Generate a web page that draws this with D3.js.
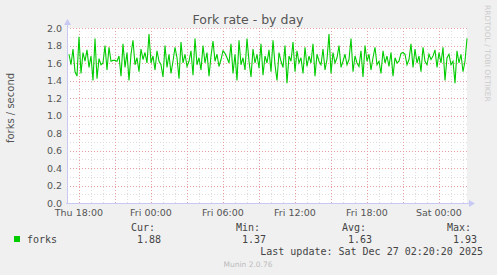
<!DOCTYPE html>
<html><head><meta charset="utf-8">
<script src="https://cdn.jsdelivr.net/npm/d3@7"></script>
<style>html,body{margin:0;padding:0;background:#f0f0f0;}svg{display:block;}</style>
</head><body>
<svg id="c" width="497" height="275"></svg>
<script>
const title = "Fork rate - by day";
const yLabel = "forks / second";
const seriesName = "forks";
const lastUpdate = "Last update: Sat Dec 27 02:20:20 2025";
const endTime = "2025-12-27T02:20:20Z";
const spanSeconds = 120000;
const stepSeconds = 600;
const yTicks = [0.0,0.2,0.4,0.6,0.8,1.0,1.2,1.4,1.6,1.8,2.0];
const statLabels = ["Cur:","Min:","Avg:","Max:"];
const statValues = ["1.88","1.37","1.63","1.93"];
const forks = [
1.70,1.58,1.76,1.50,1.45,1.90,1.48,1.72,1.62,1.75,1.55,1.68,1.40,1.88,1.42,1.65,1.58,1.60,1.80,1.52,
1.78,1.62,1.63,1.63,1.62,1.68,1.45,1.82,1.55,1.72,1.40,1.70,1.86,1.58,1.66,1.50,1.76,1.64,1.72,1.60,
1.93,1.60,1.68,1.52,1.74,1.62,1.58,1.44,1.80,1.55,1.70,1.48,1.62,1.78,1.66,1.42,1.84,1.60,1.70,1.56,
1.62,1.74,1.46,1.88,1.58,1.66,1.52,1.80,1.60,1.72,1.45,1.68,1.85,1.62,1.70,1.56,1.64,1.74,1.71,1.66,
1.60,1.82,1.48,1.70,1.40,1.86,1.58,1.66,1.52,1.88,1.62,1.44,1.76,1.60,1.70,1.54,1.82,1.46,1.68,1.60,
1.75,1.50,1.86,1.58,1.40,1.72,1.62,1.55,1.80,1.37,1.68,1.62,1.84,1.50,1.74,1.60,1.66,1.48,1.78,1.56,
1.68,1.60,1.82,1.45,1.70,1.62,1.58,1.76,1.52,1.64,1.93,1.48,1.72,1.60,1.66,1.80,1.55,1.62,1.70,1.58,
1.64,1.88,1.50,1.68,1.60,1.56,1.74,1.44,1.80,1.62,1.70,1.52,1.66,1.78,1.58,1.62,1.48,1.74,1.60,1.68,
1.56,1.72,1.45,1.66,1.60,1.62,1.71,1.72,1.70,1.58,1.64,1.82,1.55,1.76,1.60,1.68,1.50,1.78,1.62,1.58,
1.70,1.64,1.68,1.75,1.55,1.72,1.60,1.78,1.40,1.66,1.70,1.58,1.62,1.37,1.74,1.60,1.70,1.50,1.62,1.88
];

const svg = d3.select("#c");
const L = 67, R = 467, T = 28, B = 203;
const end = new Date(endTime);
const start = new Date(end.getTime() - spanSeconds*1000);
const x = d3.scaleUtc().domain([start, end]).range([L, R]);
const y = d3.scaleLinear().domain([0, 2]).range([B, T]);
const sans = "DejaVu Sans, sans-serif", mono = "DejaVu Sans Mono, monospace";

svg.append("rect").attr("x", L).attr("y", T).attr("width", R-L).attr("height", B-T).attr("fill", "#fff");

// minor grid
const g = svg.append("g").attr("shape-rendering", "crispEdges");
x.ticks(d3.utcHour.every(1)).forEach(t => {
  const px = Math.round(x(t)) + 0.5;
  g.append("line").attr("x1", px).attr("x2", px).attr("y1", T).attr("y2", B)
   .attr("stroke", "#ddd").attr("stroke-dasharray", "1,2");
});
y.ticks(20).forEach(v => {
  const py = Math.round(y(v)) + 0.5;
  g.append("line").attr("x1", L).attr("x2", R).attr("y1", py).attr("y2", py)
   .attr("stroke", "#ddd").attr("stroke-dasharray", "1,2");
});
// major grid
x.ticks(d3.utcHour.every(3)).forEach(t => {
  const px = Math.round(x(t)) + 0.5;
  g.append("line").attr("x1", px).attr("x2", px).attr("y1", T).attr("y2", B+1)
   .attr("stroke", "#e8a0a0").attr("stroke-dasharray", "1,2");
});
yTicks.forEach(v => {
  const py = Math.round(y(v)) + 0.5;
  g.append("line").attr("x1", L).attr("x2", R).attr("y1", py).attr("y2", py)
   .attr("stroke", "#e8a0a0").attr("stroke-dasharray", "1,2");
});

// data line
const line = d3.line()
  .x((d, i) => x(new Date(start.getTime() + (i+1)*stepSeconds*1000)))
  .y(d => y(d));
svg.append("path").datum(forks).attr("d", line).attr("fill", "none")
  .attr("stroke", "#00cc00").attr("stroke-width", 1.1);

// axes
const axCol = "#c8c8f4";
svg.append("line").attr("x1", L+0.5).attr("x2", L+0.5).attr("y1", T-4).attr("y2", B+1).attr("stroke", axCol);
svg.append("line").attr("x1", L-1).attr("x2", R+3).attr("y1", B+0.5).attr("y2", B+0.5).attr("stroke", axCol);
svg.append("path").attr("d", `M${L-3},${T-3} L${L+4},${T-3} L${L+0.5},${T-9} Z`).attr("fill", axCol);
svg.append("path").attr("d", `M${R+2},${B-3} L${R+2},${B+4} L${R+8},${B+0.5} Z`).attr("fill", axCol);

// tick labels
const tc = "#555";
yTicks.forEach(v => {
  svg.append("text").attr("x", 62).attr("y", y(v) + 3.5).attr("text-anchor", "end")
    .attr("font-family", sans).attr("font-size", 9.5).attr("fill", tc).text(d3.format(".1f")(v));
});
const fmt = d3.utcFormat("%a %H:%M");
x.ticks(d3.utcHour.every(6)).forEach(t => {
  svg.append("text").attr("x", x(t)).attr("y", 216).attr("text-anchor", "middle")
    .attr("font-family", sans).attr("font-size", 9.5).attr("fill", tc).text(fmt(t));
});

// title & labels
svg.append("text").attr("x", 248).attr("y", 24).attr("text-anchor", "middle")
  .attr("font-family", sans).attr("font-size", 12.5).attr("fill", "#555").text(title);
svg.append("text").attr("transform", "translate(14,108) rotate(-90)").attr("text-anchor", "middle")
  .attr("font-family", sans).attr("font-size", 10).attr("fill", "#555").text(yLabel);
svg.append("text").attr("transform", "translate(485,5) rotate(90)").attr("text-anchor", "start")
  .attr("font-family", sans).attr("font-size", 7.5).attr("fill", "#ccc").text("RRDTOOL / TOBI OETIKER");

// legend
svg.append("rect").attr("x", 14).attr("y", 236).attr("width", 6).attr("height", 6).attr("fill", "#00cc00");
svg.append("text").attr("x", 27).attr("y", 243).attr("font-family", mono).attr("font-size", 10)
  .attr("fill", "#444").text(seriesName);
const statRight = [155, 260, 366, 471];
statLabels.forEach((s, i) => {
  svg.append("text").attr("x", statRight[i]).attr("y", 231).attr("text-anchor", "end")
    .attr("font-family", mono).attr("font-size", 10).attr("fill", "#444").text(s);
  svg.append("text").attr("x", statRight[i] + 6).attr("y", 243).attr("text-anchor", "end")
    .attr("font-family", mono).attr("font-size", 10).attr("fill", "#444").text(statValues[i]);
});
svg.append("text").attr("x", 483).attr("y", 255).attr("text-anchor", "end")
  .attr("font-family", mono).attr("font-size", 10).attr("fill", "#444").text(lastUpdate);
svg.append("text").attr("x", 248).attr("y", 267).attr("text-anchor", "middle")
  .attr("font-family", sans).attr("font-size", 7.5).attr("fill", "#bbb").text("Munin 2.0.76");
</script>
</body></html>
